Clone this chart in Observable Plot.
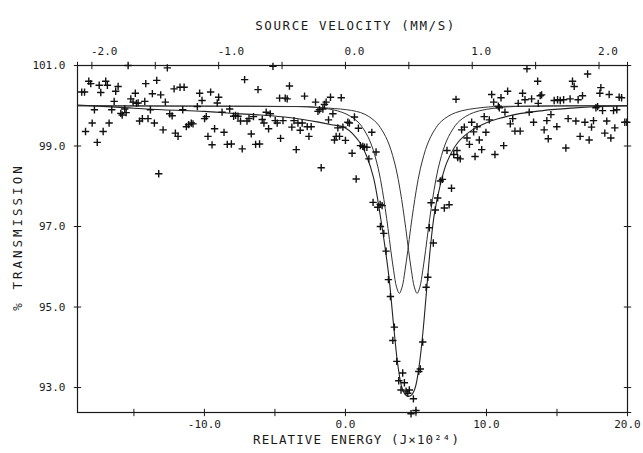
<!DOCTYPE html>
<html><head><meta charset="utf-8">
<script src="https://cdn.jsdelivr.net/npm/d3@7"></script>
<script src="https://cdn.jsdelivr.net/npm/@observablehq/plot@0.6"></script>
<style>html,body{margin:0;padding:0;background:#fff}</style>
</head><body><div id="chart"></div>
<script>
// Measured spectrum points: relative energy (J×10^24) and % transmission
const pointEnergy = [
-18.7,-18.5,-18.2,-18.06,-17.8,-17.96,-18.43,-17.6,-17.46,-17.35,-17.18,-17.0,-16.88,-16.76,-16.57,-16.4,-16.29,-16.12,-15.93,-15.83,
-15.65,-15.55,-15.41,-15.22,-15.06,-14.9,-14.82,-14.7,-14.6,-14.4,-14.23,-14.16,-14.0,-13.83,-13.69,-13.55,-13.38,-13.24,-13.1,-12.93,
-12.77,-12.63,-12.46,-12.29,-12.15,-12.06,-11.87,-11.73,-11.54,-11.44,-11.28,-11.12,-10.93,-10.81,-10.5,-10.34,-10.17,-9.99,-9.87,-9.75,
-9.56,-9.46,-9.28,-8.99,-9.09,-8.75,-8.61,-8.38,-8.21,-8.09,-7.93,-7.79,-7.62,-7.44,-7.32,-7.15,-6.98,-6.84,-6.68,-6.52,
-6.37,-6.2,-6.09,-5.9,-5.78,-5.62,-5.45,-5.33,-5.14,-4.98,-4.84,-4.67,-4.6,-4.43,-4.27,-4.13,-3.97,-3.8,-3.65,-3.49,
-3.37,-3.21,-3.07,-2.9,-2.71,-2.59,-2.43,-2.12,-1.95,-1.84,-1.72,-1.6,-1.49,-1.37,-1.2,-1.06,-0.89,-0.78,-0.66,-0.54,
-0.42,-0.3,-0.18,0.0,0.17,0.28,0.47,0.64,0.76,0.92,1.06,1.23,1.35,1.52,1.66,1.87,1.96,2.17,2.29,2.46,
2.48,2.6,2.72,2.88,3.05,3.19,3.36,3.47,3.64,3.78,3.94,4.06,4.18,4.3,4.42,4.53,4.82,4.65,5.0,5.2,
5.31,5.48,5.72,5.84,5.95,6.07,6.23,6.37,6.54,6.73,6.88,7.01,7.35,7.52,7.2,7.68,7.96,8.14,7.91,7.84,
8.24,8.43,8.62,8.79,8.95,9.09,9.19,9.33,9.49,9.66,9.84,9.96,10.2,10.37,10.51,10.6,10.84,10.91,11.03,11.22,
11.31,11.5,11.69,11.86,12.02,12.25,12.39,12.56,12.73,12.87,13.03,13.2,13.34,13.63,13.67,13.81,13.91,14.09,14.28,14.38,
14.57,14.8,14.99,15.04,15.23,15.47,15.63,15.79,15.93,16.1,16.22,16.34,16.5,16.64,16.81,16.98,17.17,17.28,17.45,17.59,
17.76,17.88,18.04,18.11,18.23,18.39,18.53,18.7,18.82,19.01,19.1,19.24,19.41,19.58,19.81,19.95
];
const pointTransmission = [
100.34,100.34,100.61,100.55,99.9,99.57,99.36,99.09,100.51,100.33,99.36,100.61,100.51,99.57,99.9,100.11,100.36,100.48,99.81,99.77,
99.92,99.83,101.0,100.17,100.09,100.31,100.06,100.07,99.62,99.68,100.11,100.55,99.68,99.9,100.3,99.57,100.63,98.31,100.27,99.4,
100.09,100.94,99.8,99.75,100.42,99.32,99.24,100.46,99.9,100.46,99.48,99.53,99.57,99.55,99.98,100.31,100.13,99.68,99.73,99.24,
100.34,99.03,99.43,100.21,100.07,99.84,99.34,99.04,99.92,99.05,99.74,99.76,99.74,99.62,98.93,100.65,99.62,99.68,99.3,99.73,
99.04,100.4,99.05,99.66,99.57,99.84,99.43,99.8,100.98,99.63,99.57,100.19,99.19,99.63,100.19,100.17,100.49,99.47,99.63,98.91,
99.57,99.39,99.57,100.24,99.48,99.24,99.48,100.09,99.86,99.9,98.46,99.92,100.03,100.09,99.65,100.21,99.8,99.15,99.24,99.45,
99.24,100.2,99.47,99.14,99.59,99.57,98.82,99.72,98.18,99.44,99.01,98.99,98.97,98.97,98.68,99.34,97.6,98.85,97.48,97.55,
97.0,97.52,96.83,96.39,95.68,95.26,94.17,94.5,93.65,93.17,92.94,93.36,93.12,92.91,92.86,92.94,92.72,92.35,92.43,93.4,
93.46,94.13,95.49,95.74,96.97,97.59,96.59,97.41,97.71,98.13,98.17,97.46,97.54,97.95,98.89,98.79,98.71,98.68,98.89,100.16,
99.4,99.47,99.2,99.04,99.59,99.35,98.74,99.48,99.15,98.91,99.73,99.34,99.65,100.28,100.09,98.79,99.99,99.95,100.2,99.01,
99.84,100.36,99.55,99.68,99.37,100.06,99.37,100.31,100.15,100.92,99.84,100.17,99.59,100.61,100.06,100.25,100.27,99.4,99.63,99.18,
99.78,100.13,99.48,100.15,100.13,100.15,98.95,99.68,100.17,100.61,100.48,99.62,100.15,99.24,100.25,99.59,100.79,99.15,99.47,99.63,
99.95,99.98,100.31,100.45,99.88,99.32,99.62,100.28,99.2,99.88,99.45,99.9,100.21,100.2,99.59,99.59
];

// Fitted envelope (sum)
const totalEnergy = [-19,-16,-13,-10,-8,-6,-4,-2,-1,0,1,1.5,2,2.5,2.8,3.1,3.4,3.7,4.0,4.25,4.45,4.7,4.95,5.25,5.5,5.75,6.0,6.3,6.7,7.2,8,9,10,12,14,16,18,20];
const totalTransmission = [100.02,99.96,99.9,99.86,99.81,99.77,99.71,99.6,99.53,99.45,99.1,98.75,98.2,97.2,96.5,95.7,94.6,93.6,93.0,92.82,92.78,92.82,93.0,93.6,94.4,95.4,96.4,97.3,98.0,98.6,99.1,99.4,99.58,99.78,99.88,99.94,99.98,100.0];

// First doublet line
const line1Energy = [-19,-10,-5,-2,-0.18,0.82,1.32,1.82,2.32,2.62,2.82,3.02,3.22,3.42,3.62,3.82,4.02,4.22,4.42,4.62,4.82,5.02,5.32,5.82,6.32,6.82,7.82,9.82,12.82,20];
const line1Transmission = [100.0,99.99,99.98,99.96,99.83,99.62,99.4,99.05,98.45,97.9,97.45,96.95,96.4,95.9,95.5,95.34,95.5,95.9,96.4,96.95,97.45,97.9,98.45,99.05,99.4,99.62,99.83,99.96,99.99,100.0];

// Second doublet line
const line2Energy = [-19,-10,-5,-2,1.08,2.08,2.58,3.08,3.58,3.88,4.08,4.28,4.48,4.68,4.88,5.08,5.28,5.48,5.68,5.88,6.08,6.28,6.58,7.08,7.58,8.08,9.08,11.08,14,20];
const line2Transmission = [100.0,99.99,99.985,99.96,99.83,99.62,99.4,99.05,98.45,97.9,97.45,96.95,96.4,95.9,95.5,95.34,95.5,95.9,96.4,96.95,97.45,97.9,98.45,99.05,99.4,99.62,99.83,99.96,99.99,100.0];

const energyTicks = [-15,-10,-5,0,5,10,15,20];
const energyLabels = [-10,0,10,20];
const velocityTicks = [-2,-1.5,-1,-0.5,0,0.5,1,1.5,2];
const velocityLabels = [-2,-1,0,1,2];
const energyPerVelocity = 8.99;
const transmissionTicks = [101,99,97,95,93];

const titleTop = "SOURCE VELOCITY (MM/S)";
const titleBottom = "RELATIVE ENERGY (J×10²⁴)";
const titleLeft = "% TRANSMISSION";

const points = pointEnergy.map((e, i) => ({e, t: pointTransmission[i]}));
const total = totalEnergy.map((e, i) => ({e, t: totalTransmission[i]}));
const line1 = line1Energy.map((e, i) => ({e, t: line1Transmission[i]}));
const line2 = line2Energy.map((e, i) => ({e, t: line2Transmission[i]}));
const velTickPos = velocityTicks.map(v => v * energyPerVelocity);
const velLabelPos = velocityLabels.map(v => v * energyPerVelocity);

const ink = "#1a1a1a";
const chart = Plot.plot({
  width: 643,
  height: 453,
  marginLeft: 77,
  marginRight: 16,
  marginTop: 65,
  marginBottom: 41,
  style: {fontFamily: "'DejaVu Sans Mono', monospace", fontSize: "11px", color: ink, background: "#fff"},
  x: {domain: [-19, 20]},
  y: {domain: [92.38, 101]},
  marks: [
    Plot.frame({stroke: ink, strokeWidth: 1.2}),
    Plot.line(line1, {x: "e", y: "t", stroke: "#333", strokeWidth: 1, curve: "catmull-rom"}),
    Plot.line(line2, {x: "e", y: "t", stroke: "#333", strokeWidth: 1, curve: "catmull-rom"}),
    Plot.line(total, {x: "e", y: "t", stroke: "#222", strokeWidth: 1.1, curve: "catmull-rom"}),
    Plot.dot(points, {x: "e", y: "t", symbol: "plus", r: 2.5, stroke: "#111", strokeWidth: 1.4}),
    // crossing tick marks on the four sides
    Plot.dot(energyTicks, {x: d => d, frameAnchor: "bottom", symbol: "plus", r: 2.5, stroke: ink, strokeWidth: 1}),
    Plot.dot(velTickPos, {x: d => d, frameAnchor: "top", symbol: "plus", r: 2.5, stroke: ink, strokeWidth: 1}),
    Plot.dot(transmissionTicks, {y: d => d, frameAnchor: "left", symbol: "plus", r: 2.5, stroke: ink, strokeWidth: 1}),
    Plot.dot(transmissionTicks, {y: d => d, frameAnchor: "right", symbol: "plus", r: 2.5, stroke: ink, strokeWidth: 1}),
    Plot.axisX(energyLabels, {anchor: "bottom", tickSize: 0, tickPadding: 8, tickFormat: d => d.toFixed(1), label: null, fill: ink}),
    Plot.axisX(velLabelPos, {anchor: "top", tickSize: 0, tickPadding: 11, textAnchor: "start", dx: -1, tickFormat: d => (d / energyPerVelocity).toFixed(1), label: null, fill: ink}),
    Plot.axisY(transmissionTicks, {anchor: "left", tickSize: 0, tickPadding: 12, tickFormat: d => d.toFixed(1), label: null, fill: ink}),
    Plot.text([titleTop], {frameAnchor: "top", dx: 3, dy: -44, fontSize: 12.5, fill: ink}),
    Plot.text([titleBottom], {frameAnchor: "bottom", dx: 4, dy: 31, fontSize: 12.5, fill: ink}),
    Plot.text([titleLeft], {frameAnchor: "left", textAnchor: "middle", dx: -60, dy: -2, rotate: -90, fontSize: 12.5, fill: ink})
  ]
});
d3.select(chart).selectAll("text").filter(function() {
  return this.textContent === titleTop;
}).attr("letter-spacing", "1.6px");
d3.select(chart).selectAll("text").filter(function() {
  return this.textContent === titleBottom;
}).attr("letter-spacing", "1.1px");
d3.select(chart).selectAll("text").filter(function() {
  return this.textContent === titleLeft;
}).attr("letter-spacing", "3px");
document.getElementById("chart").appendChild(chart);
</script>
</body></html>
